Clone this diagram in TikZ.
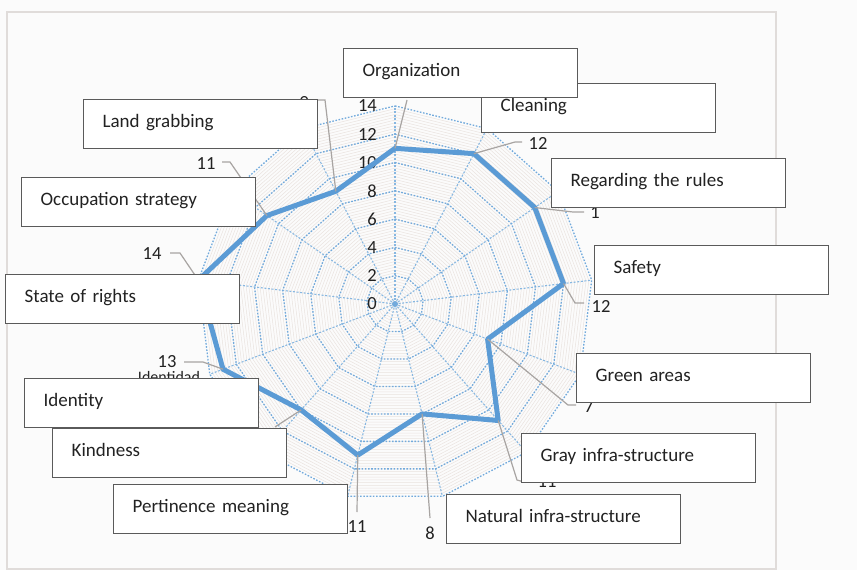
\documentclass[tikz,border=0pt]{standalone}
\usepackage{fontspec}
\setmainfont{Carlito}
\definecolor{bg}{HTML}{FBFBFB}
\definecolor{framec}{HTML}{E0DCDA}
\definecolor{serie}{HTML}{5B9BD5}
\definecolor{gridb}{HTML}{72AADC}
\definecolor{minorc}{HTML}{EAE3DF}
\definecolor{leadc}{HTML}{A8A4A2}
\definecolor{boxline}{HTML}{5A5A5A}
\definecolor{txt}{HTML}{222222}
\begin{document}
\begin{tikzpicture}[x=1pt,y=-1pt,
  lbox/.style={draw=boxline,line width=1.3pt,fill=white,anchor=north west,
    minimum width=234pt,minimum height=49pt,text width=196pt,align=left,
    text height=14pt,text depth=7pt,
    inner xsep=19pt,inner ysep=0pt,font=\fontsize{19}{22}\selectfont,text=txt},
  val/.style={inner sep=0pt,font=\fontsize{18.5}{22}\selectfont,text=txt},
  leader/.style={draw=leadc,line width=1.2pt},
  ring/.style={draw=gridb,line width=1.3pt,dash pattern=on 1.6pt off 1.6pt},
  spoke/.style={draw=gridb!85,line width=1.1pt,dash pattern=on 2pt off 1.6pt},
  minorring/.style={draw=minorc,line width=0.5pt},
  serieline/.style={draw=serie,line width=5pt,line join=round}]
\useasboundingbox (0,0) rectangle (857,570);
\fill[bg] (0,0) rectangle (857,570);
\draw[framec,line width=1.5pt] (7,569) -- (7,12) -- (776,12) -- (776,569) -- cycle;
\def\cx{395}\def\cy{304}\def\un{14.15}
\coordinate (c) at (\cx,\cy);
% minor rings
\foreach \r in {0.2,0.4,...,13.9}{
  \draw[minorring] plot[samples at={0,...,12}] ({\cx+\un*\r*sin(\x*360/13)},{\cy-\un*\r*cos(\x*360/13)}) -- cycle;
}
% spokes
\foreach \k in {0,...,12}{
  \coordinate (e\k) at ({\cx+\un*14*sin(\k*360/13)},{\cy-\un*14*cos(\k*360/13)});
  \draw[spoke] (c) -- (e\k);
}
% major rings
\foreach \r in {2,4,...,14}{
  \draw[ring] plot[samples at={0,...,12}] ({\cx+\un*\r*sin(\x*360/13)},{\cy-\un*\r*cos(\x*360/13)}) -- cycle;
}
\fill[gridb] (c) circle (3);
% axis numbers
\foreach \v in {0,2,...,14}{
  \node[val,anchor=east] (ax\v) at (377,{\cy-\un*\v}) {\v};
}
% data
\foreach \v [count=\k from 0] in {11,12,12,12,7,11,8,11,10,13,14,11,9}{
  \coordinate (p\k) at ({\cx+\un*\v*sin(\k*360/13)},{\cy-\un*\v*cos(\k*360/13)});
}
\draw[serieline] (p0)--(p1)--(p2)--(p3)--(p4)--(p5)--(p6)--(p7)--(p8)--(p9)--(p10)--(p11)--(p12)--cycle;
% value labels
\node[val] (v1) at (538,143) {12};
\node[val] (v2) at (595,213) {1};
\node[val] (v3) at (601,306) {12};
\node[val] (v4) at (589,407) {7};
\node[val,anchor=south] (v5) at (547,488) {11};
\node[val] (v6) at (430,533) {8};
\node[val,anchor=south] (v7) at (357,533) {11};
\node[val] (v9) at (167,362) {13};
\node[val] (v10) at (152,254) {14};
\node[val] (v11) at (206,164) {11};
\node[val,anchor=north] (v12) at (304,96) {9};
\node[inner sep=0pt,anchor=north,font=\fontsize{16}{18}\selectfont,text=txt] (idd) at (169,371.5) {Identidad};
% leaders
\coordinate (l0) at (407,100);
\coordinate (l1a) at (515,142); \coordinate (l1b) at (522,142);
\coordinate (l2a) at (573,212); \coordinate (l2b) at (584,212);
\coordinate (l3a) at (575,303); \coordinate (l3b) at (584,303);
\coordinate (l4a) at (568,405); \coordinate (l4b) at (576,405);
\coordinate (l5a) at (517,480); \coordinate (l5b) at (524,482);
\coordinate (l6a) at (430,518);
\coordinate (l7a) at (357,512);
\coordinate (l8a) at (275,427);
\coordinate (l9a) at (203,362); \coordinate (l9b) at (184,362);
\coordinate (l10a) at (180,253); \coordinate (l10b) at (170,253);
\coordinate (l11a) at (230,162); \coordinate (l11b) at (222,162);
\coordinate (l12a) at (325,100); \coordinate (l12b) at (316,100);
\draw[leader] (p0) -- (l0);
\draw[leader] (p1) -- (l1a) -- (l1b);
\draw[leader] (p2) -- (l2a) -- (l2b);
\draw[leader] (p3) -- (l3a) -- (l3b);
\draw[leader] (p4) -- (l4a) -- (l4b);
\draw[leader] (p5) -- (l5a) -- (l5b);
\draw[leader] (p6) -- (l6a);
\draw[leader] (p7) -- (l7a);
\draw[leader] (p8) -- (l8a);
\draw[leader] (p9) -- (l9a) -- (l9b);
\draw[leader] (p10) -- (l10a) -- (l10b);
\draw[leader] (p11) -- (l11a) -- (l11b);
\draw[leader] (p12) -- (l12a) -- (l12b);
% label boxes
\node[lbox] (cle) at (481,83) {Cleaning};
\node[lbox] (org) at (343,48) {Organization};
\node[lbox] (reg) at (551,158) {Regarding the rules};
\node[lbox] (saf) at (594,245) {Safety};
\node[lbox] (gre) at (576,353) {Green areas};
\node[lbox] (gra) at (521,433) {Gray infra-structure};
\node[lbox] (nat) at (446,494) {Natural infra-structure};
\node[lbox] (per) at (113,484) {Pertinence meaning};
\node[lbox] (kin) at (52,428) {Kindness};
\node[lbox] (ide) at (24,378) {Identity};
\node[lbox] (sta) at (5,274) {State of rights};
\node[lbox] (occ) at (21,177) {Occupation strategy};
\node[lbox] (lan) at (83,99) {Land grabbing};
\end{tikzpicture}
\end{document}
